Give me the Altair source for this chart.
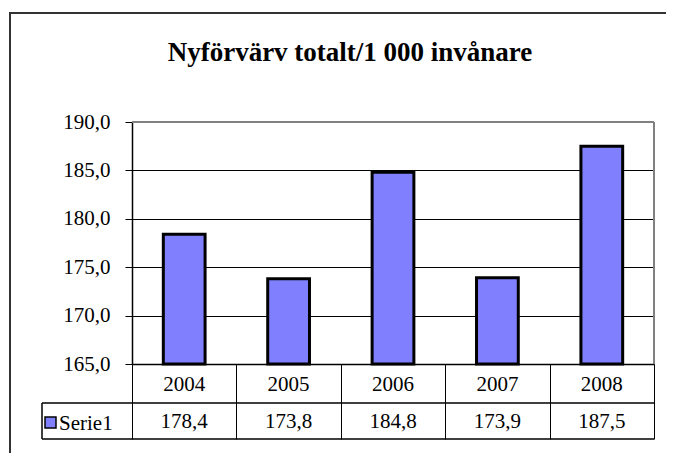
import altair as alt
import pandas as pd

# ---- data ----
years = ["2004", "2005", "2006", "2007", "2008"]
values = [178.4, 173.8, 184.8, 173.9, 187.5]
y_ticks = [165, 170, 175, 180, 185, 190]
title_text = "Nyförvärv totalt/1 000 invånare"
series_name = "Serie1"

df = pd.DataFrame({"year": years, "value": values})
one = pd.DataFrame({"k": [0]})

FONT = "Liberation Serif"
W, H = 522, 242          # plot area
L, T = 132, 122          # page position of plot origin


def px(x):
    return x - L


def py(y):
    return y - T


comma = "replace(format(datum.value, '.1f'), '.', ',')"

x_enc = alt.X(
    "year:N", sort=years,
    scale=alt.Scale(paddingInner=0, paddingOuter=0),
    axis=alt.Axis(title=None, labels=False, tickBand="extent", tickSize=75,
                  tickColor="black", tickWidth=1, domainColor="black",
                  domainWidth=1.5, grid=False),
)

y_enc = alt.Y(
    "value:Q",
    scale=alt.Scale(domain=[165, 190], zero=False, nice=False),
    axis=alt.Axis(values=y_ticks, labelExpr=comma, title=None, tickSize=7,
                  tickColor="black", tickWidth=1, labelPadding=15,
                  labelFont=FONT, labelFontSize=21, labelColor="black",
                  domainColor="black", domainWidth=1.5,
                  gridColor="black", gridWidth=1, gridOpacity=1),
)

bars = alt.Chart(df).mark_bar(
    width=alt.RelativeBandSize(0.4), fill="#8080FF", stroke="black", strokeWidth=3
).encode(x=x_enc, y=y_enc, y2=alt.datum(165))

# gray plot-area frame (top and right)
frame_top = alt.Chart(one).mark_rule(color="#808080", strokeWidth=2).encode(
    x=alt.value(0), x2=alt.value(W), y=alt.value(0))
frame_right = alt.Chart(one).mark_rule(color="#808080", strokeWidth=2).encode(
    x=alt.value(W), y=alt.value(0), y2=alt.value(H))

# data table
year_text = alt.Chart(df).mark_text(
    font=FONT, fontSize=21, baseline="alphabetic", color="black"
).encode(x=alt.X("year:N", sort=years), y=alt.value(py(391)), text="year:N")

value_text = alt.Chart(df).transform_calculate(lbl=comma).mark_text(
    font=FONT, fontSize=21, baseline="alphabetic", color="black"
).encode(x=alt.X("year:N", sort=years), y=alt.value(py(428)), text="lbl:N")

hline1 = alt.Chart(one).mark_rule(color="black", strokeWidth=1.5).encode(
    x=alt.value(px(42)), x2=alt.value(W), y=alt.value(py(403)))
hline2 = alt.Chart(one).mark_rule(color="black", strokeWidth=1.5).encode(
    x=alt.value(px(42)), x2=alt.value(W), y=alt.value(py(439)))
vline = alt.Chart(one).mark_rule(color="black", strokeWidth=1.5).encode(
    x=alt.value(px(42)), y=alt.value(py(403)), y2=alt.value(py(439)))

key = alt.Chart(one).mark_rect(fill="#8080FF", stroke="black", strokeWidth=1.5).encode(
    x=alt.value(px(45)), x2=alt.value(px(56)), y=alt.value(py(417)), y2=alt.value(py(428)))
key_text = alt.Chart(pd.DataFrame({"s": [series_name]})).mark_text(
    font=FONT, fontSize=21, baseline="alphabetic", align="left", color="black"
).encode(x=alt.value(px(59)), y=alt.value(py(430)), text="s:N")

# title
title = alt.Chart(pd.DataFrame({"t": [title_text]})).mark_text(
    font=FONT, fontSize=27, fontWeight="bold", baseline="alphabetic",
    align="center", color="black"
).encode(x=alt.value(px(350)), y=alt.value(py(61)), text="t:N")

# outer chart border
border = alt.Chart(one).mark_rect(filled=False, stroke="#333333", strokeWidth=2).encode(
    x=alt.value(px(10)), x2=alt.value(px(720)), y=alt.value(py(13)), y2=alt.value(py(520)))

chart = alt.layer(
    border, bars, frame_top, frame_right, year_text, value_text,
    hline1, hline2, vline, key, key_text, title
).properties(
    width=W, height=H,
    autosize=alt.AutoSizeParams(type="none"),
    padding={"left": 124, "top": 114, "right": 12, "bottom": 89},
    background="white",
).configure_view(strokeOpacity=0).configure_axis(labelFont=FONT)

chart.save("out.html", embed_options={"renderer": "svg", "actions": False})
